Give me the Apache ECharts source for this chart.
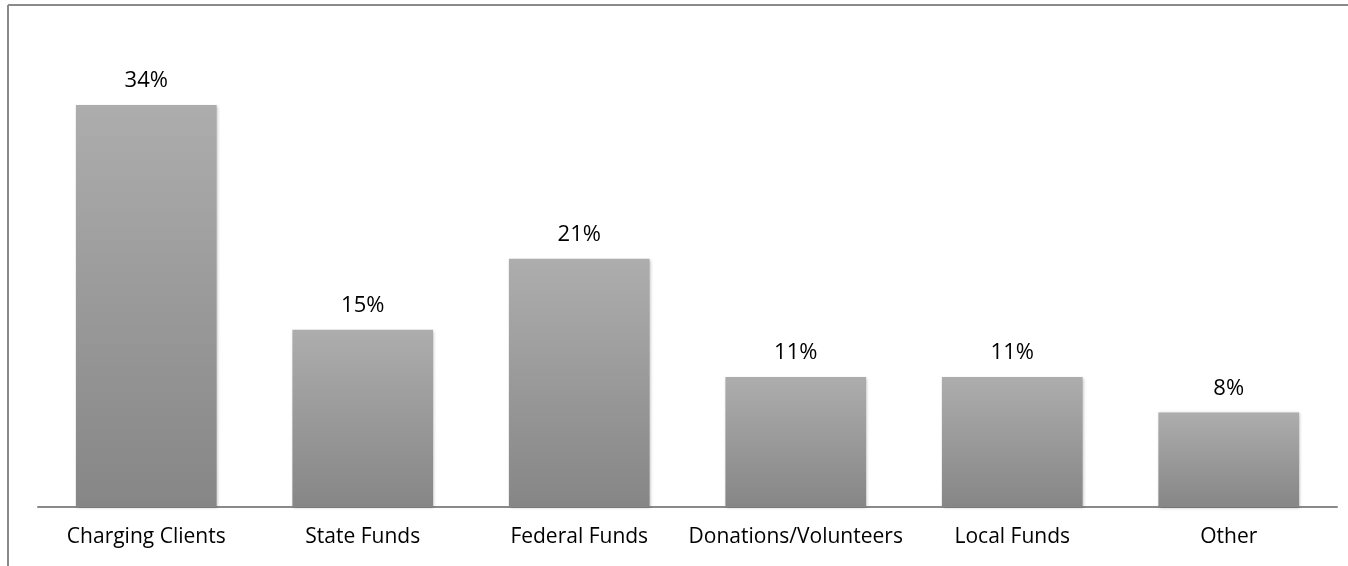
<!DOCTYPE html>
<html>
<head>
<meta charset="utf-8">
<script src="https://cdn.jsdelivr.net/npm/echarts@6/dist/echarts.min.js"></script>
<style>
  html, body { margin: 0; padding: 0; background: #fff; }
  #chart { width: 1348px; height: 566px; }
</style>
</head>
<body>
<div id="chart"></div>
<script>
// Funding sources, share of total (%)
const categories = ['Charging Clients', 'State Funds', 'Federal Funds', 'Donations/Volunteers', 'Local Funds', 'Other'];
const shares = [34, 15, 21, 11, 11, 8];

const chart = echarts.init(document.getElementById('chart'));
const font = '"Open Sans", "Noto Sans", sans-serif';

chart.setOption({
  animation: false,
  backgroundColor: '#ffffff',
  graphic: [
    // frame lines along the top and left edges
    { type: 'line', shape: { x1: 8, y1: 5, x2: 1348, y2: 5 }, style: { stroke: '#8a8a8a', lineWidth: 2 } },
    { type: 'line', shape: { x1: 8, y1: 5, x2: 8, y2: 566 }, style: { stroke: '#8a8a8a', lineWidth: 2 } }
  ],
  grid: { left: 38, right: 11, top: 34, bottom: 59, containLabel: false },
  xAxis: {
    type: 'category',
    data: categories,
    axisLine: { lineStyle: { color: '#8a8a8a', width: 2 } },
    axisTick: { show: false },
    axisLabel: { color: '#000', fontFamily: font, fontSize: 21, lineHeight: 21, margin: 20, interval: 0 }
  },
  yAxis: {
    type: 'value',
    min: 0,
    max: 40,
    show: false,
    splitLine: { show: false }
  },
  series: [{
    type: 'bar',
    data: shares,
    barCategoryGap: '35%',
    itemStyle: {
      color: new echarts.graphic.LinearGradient(0, 0, 0, 1, [
        { offset: 0, color: '#adadad' },
        { offset: 1, color: '#868686' }
      ]),
      shadowColor: 'rgba(0,0,0,0.25)',
      shadowBlur: 3,
      shadowOffsetX: 1,
      shadowOffsetY: 1
    },
    label: {
      show: true,
      position: 'top',
      distance: 13,
      color: '#000',
      fontFamily: font,
      fontSize: 22,
      lineHeight: 22,
      formatter: p => p.value + '%'
    }
  }]
});
</script>
</body>
</html>
